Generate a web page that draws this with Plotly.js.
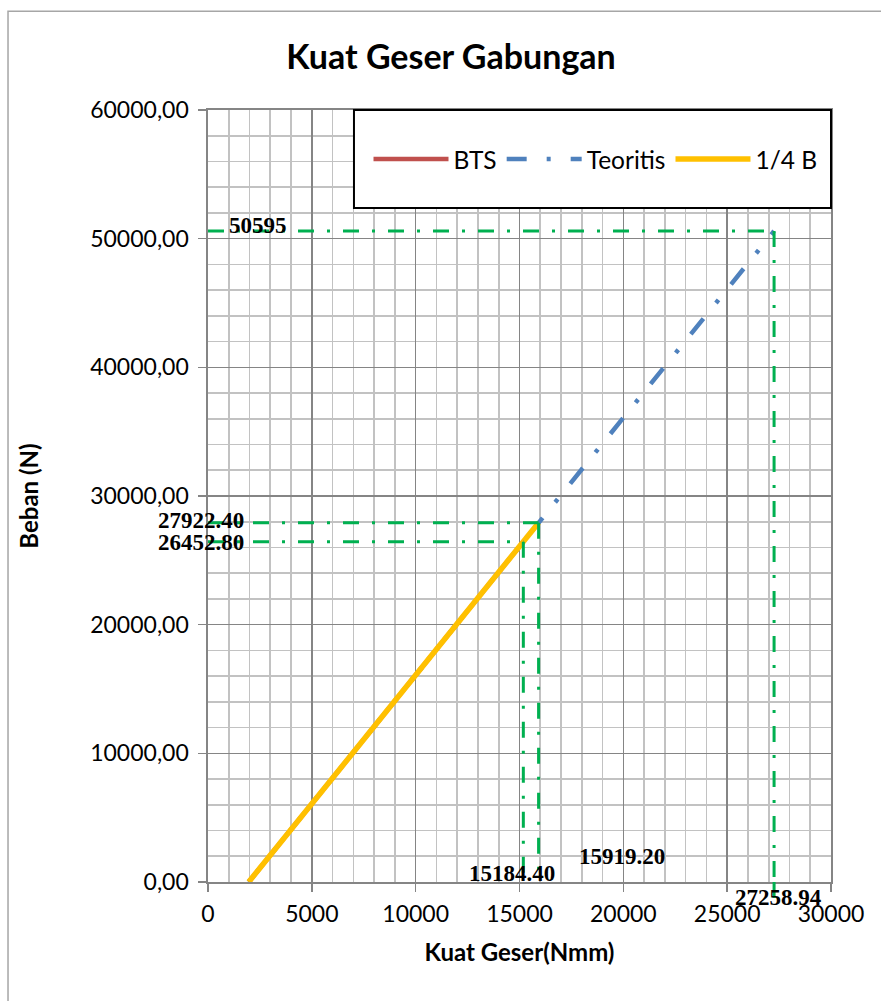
<!DOCTYPE html>
<html>
<head>
<meta charset="utf-8">
<script src="https://cdn.plot.ly/plotly-3.0.1.min.js"></script>
<style>html,body{margin:0;padding:0;background:#fff;}#chart{width:881px;height:1001px;}</style>
</head>
<body>
<div id="chart"></div>
<script>
// ---- data ----
const seriesNames = ['BTS', 'Teoritis', '1/4 B'];
const btsX = [1961, 15184.40];
const btsY = [0, 26452.80];
const teoritisX = [1961, 15919.20, 27258.94];
const teoritisY = [0, 27922.40, 50595];
const quarterBX = [1961, 15919.20];
const quarterBY = [0, 27922.40];
// reference (green) marker values
const refX = [15184.40, 15919.20, 27258.94];
const refY = [26452.80, 27922.40, 50595];
const refXLabels = ['15184.40', '15919.20', '27258.94'];
const refYLabels = ['26452.80', '27922.40', '50595'];
const xTicks = [0, 5000, 10000, 15000, 20000, 25000, 30000];
const yTicks = [0, 10000, 20000, 30000, 40000, 50000, 60000];

const GREEN = '#00B050';
const greenDash = '16px,13px,3px,13px';
const MAJOR = '#858585';
const MINOR = '#C2C2C2';

const traces = [
  {x: btsX, y: btsY, name: seriesNames[0], mode: 'lines',
   line: {color: '#C0504D', width: 4.5}},
  {x: teoritisX, y: teoritisY, name: seriesNames[1], mode: 'lines',
   line: {color: '#4F81BD', width: 4.5, dash: '20px,20px,4px,20px'}},
  {x: quarterBX, y: quarterBY, name: seriesNames[2], mode: 'lines',
   line: {color: '#FFC000', width: 5.5}}
];

const shapes = [];
// outer chart border
shapes.push({type: 'rect', xref: 'paper', yref: 'paper', x0: -0.321, x1: 1.2, y0: -0.3, y1: 1.128,
  line: {color: '#A6A6A6', width: 1.5}, fillcolor: 'rgba(0,0,0,0)', layer: 'below'});
for (let i = 0; i < refX.length; i++) {
  shapes.push({type: 'line', xref: 'x', yref: 'y', x0: 0, x1: refX[i], y0: refY[i], y1: refY[i],
    line: {color: GREEN, width: 3, dash: greenDash}});
  shapes.push({type: 'line', xref: 'x', yref: 'y', x0: refX[i], x1: refX[i], y0: refY[i], y1: 0,
    line: {color: GREEN, width: 3, dash: greenDash}});
}
// extension of last vertical below the axis
shapes.push({type: 'line', xref: 'x', yref: 'paper', x0: refX[2], x1: refX[2], y0: 0, y1: -0.03,
  line: {color: GREEN, width: 3, dash: greenDash}});
// legend box
shapes.push({type: 'rect', xref: 'paper', yref: 'paper', x0: 0.2343, x1: 1, y0: 0.873, y1: 1,
  line: {color: '#000000', width: 2}, fillcolor: '#FFFFFF', layer: 'above'});

const annFont = {family: 'Liberation Serif, Times New Roman, serif', size: 23, color: '#000'};
const annotations = [
  {x: 0, y: refY[2], text: '<b>' + refYLabels[2] + '</b>', xshift: 50, yshift: 6},
  {x: 0, y: refY[1], text: '<b>' + refYLabels[1] + '</b>', xshift: -7, yshift: 2},
  {x: 0, y: refY[0], text: '<b>' + refYLabels[0] + '</b>', xshift: -7, yshift: -1},
  {x: refX[1], y: 0, text: '<b>' + refXLabels[1] + '</b>', xshift: 83, yshift: 26},
  {x: refX[0], y: 0, text: '<b>' + refXLabels[0] + '</b>', xshift: -11, yshift: 9},
  {x: refX[2], y: 0, text: '<b>' + refXLabels[2] + '</b>', xshift: 4, yshift: -15}
].map(a => Object.assign({xref: 'x', yref: 'y', showarrow: false, font: annFont,
  xanchor: 'center', yanchor: 'middle'}, a));

const tickFont = {family: 'Lato, sans-serif', size: 23, color: '#000'};
const axTitleFont = {family: 'Lato, sans-serif', size: 24, color: '#000'};

const layout = {
  width: 881, height: 1001,
  margin: {l: 208, r: 50, t: 110, b: 119},
  paper_bgcolor: '#FFFFFF', plot_bgcolor: '#FFFFFF',
  separators: ', ',
  font: {family: 'Lato, Calibri, sans-serif', color: '#000'},
  title: {text: '<b>Kuat Geser Gabungan</b>', font: {family: 'Lato, sans-serif', size: 34, color: '#000'},
    x: 0.512, xanchor: 'center', y: 0.943, yanchor: 'middle'},
  showlegend: true,
  legend: {orientation: 'h', x: 0.622, y: 0.9365, xanchor: 'center', yanchor: 'middle',
    bgcolor: 'rgba(0,0,0,0)', borderwidth: 0, itemwidth: 75,
    font: {family: 'Lato, sans-serif', size: 24.5, color: '#000'}, traceorder: 'normal'},
  xaxis: {
    range: [0, 30000], tickmode: 'array', tickvals: xTicks, ticktext: xTicks.map(String),
    showgrid: true, gridcolor: MAJOR, gridwidth: 1.6,
    minor: {dtick: 1000, showgrid: true, gridcolor: MINOR, gridwidth: 1.6, ticks: ''},
    showline: true, linecolor: MAJOR, linewidth: 1.6, mirror: true,
    ticks: 'outside', ticklen: 8, tickcolor: MAJOR, tickwidth: 1.6, ticklabelstandoff: 3,
    zeroline: false, tickfont: tickFont,
    title: {text: '<b>Kuat Geser(Nmm)</b>', font: axTitleFont, standoff: 18},
    fixedrange: true
  },
  yaxis: {
    range: [0, 60000], tickmode: 'array', tickvals: yTicks, tickformat: '.2f',
    showgrid: true, gridcolor: MAJOR, gridwidth: 1.6,
    minor: {dtick: 2000, showgrid: true, gridcolor: MINOR, gridwidth: 1.6, ticks: ''},
    showline: true, linecolor: MAJOR, linewidth: 1.6, mirror: true,
    ticks: 'outside', ticklen: 8, tickcolor: MAJOR, tickwidth: 1.6, ticklabelstandoff: 5,
    zeroline: false, tickfont: tickFont,
    title: {text: '<b>Beban (N)</b>', font: axTitleFont, standoff: 45},
    fixedrange: true
  },
  shapes: shapes,
  annotations: annotations
};

Plotly.newPlot('chart', traces, layout, {displayModeBar: false, staticPlot: true});
</script>
</body>
</html>
